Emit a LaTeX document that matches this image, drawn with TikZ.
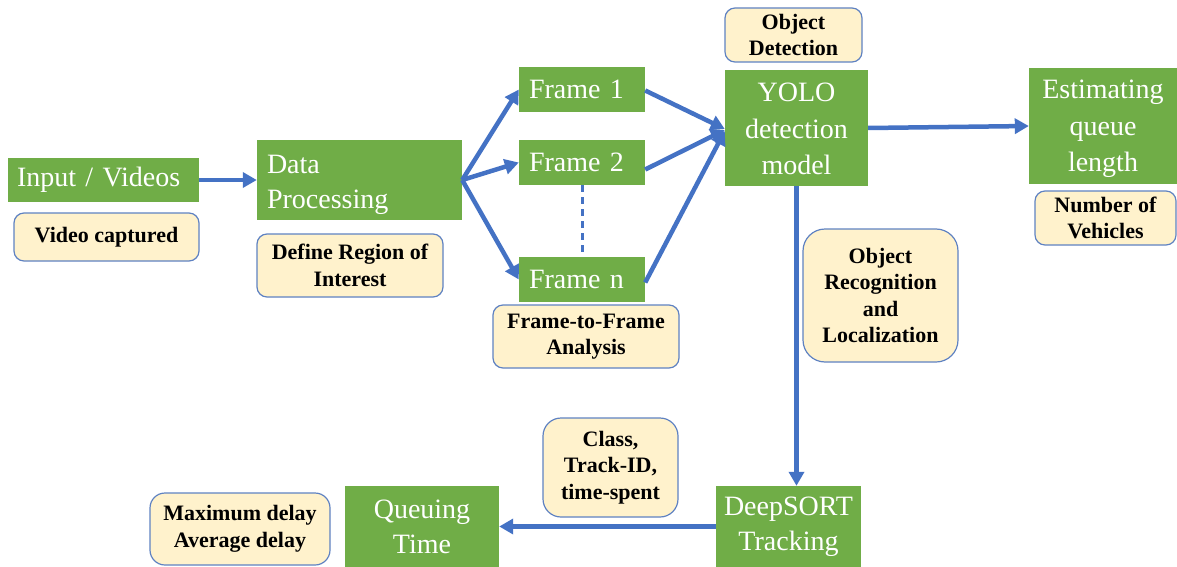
\documentclass[tikz,border=0pt]{standalone}
\usepackage{fontspec}
\setmainfont{Liberation Serif}
\usetikzlibrary{arrows.meta}
\definecolor{boxgreen}{HTML}{70AD47}
\definecolor{flowblue}{HTML}{4472C4}
\definecolor{notefill}{HTML}{FFF2CC}
\definecolor{noteedge}{HTML}{5F82C2}
\tikzset{
  stage/.style={fill=boxgreen, text=white, inner sep=0pt,
    font=\fontsize{28}{35}\selectfont},
  stageL/.style={stage, align=left, text width=#1},
  stageC/.style={stage, align=center},
  caption/.style={text=white, inner sep=0pt, font=\fontsize{28}{#1}\selectfont},
  note/.style={fill=notefill, draw=noteedge, line width=1.2pt, rounded corners=10pt,
    inner sep=0pt, align=center, font=\fontsize{22}{26.5}\selectfont\bfseries},
  flow/.style={draw=flowblue, line width=4.5pt, -{Triangle[length=14pt,width=15pt]}},
}
\begin{document}
\begin{tikzpicture}[x=1pt,y=-1pt]
\useasboundingbox (0,0) rectangle (1177,567);

% processing stages
\node[stageL=173pt, minimum width=191pt, minimum height=44pt] (inp) at (103.5,180) {Input / Videos};
\node[stage, minimum width=205pt, minimum height=80pt] (dat) at (359.5,180) {};
\node[caption=35, align=left, text width=185pt] (datT) at ([yshift=-5pt]dat.center) {Data\\Processing};
\node[stageL=106pt, minimum width=126pt, minimum height=45pt] (f1) at (582,89.5) {Frame 1};
\node[stageL=106pt, minimum width=126pt, minimum height=45pt] (f2) at (582,162.5) {Frame 2};
\node[stageL=106pt, minimum width=126pt, minimum height=45pt] (fn) at (582,279.5) {Frame n};
\node[stage, minimum width=143pt, minimum height=116pt] (yolo) at (796.5,128) {};
\node[caption=36.5, align=center] (yoloT) at ([yshift=-1pt]yolo.center) {YOLO\\detection\\model};
\node[stage, minimum width=148pt, minimum height=116pt] (est) at (1103,126) {};
\node[caption=36.5, align=center] (estT) at ([yshift=-3pt]est.center) {Estimating\\queue\\length};
\node[stageC, minimum width=145pt, minimum height=81pt] (deep) at (788.5,526.5) {DeepSORT\\Tracking};
\node[stageC, minimum width=154pt, minimum height=81pt] (que) at (422,526.5) {Queuing\\Time};

% annotations
\node[note, minimum width=185pt, minimum height=48pt] (vc) at (106.5,237) {Video captured};
\node[note, minimum width=186pt, minimum height=63pt] (roi) at (350,265.5) {Define Region of\\Interest};
\node[note, minimum width=186pt, minimum height=63pt] (ffa) at (586,336.5) {Frame-to-Frame\\Analysis};
\node[note, minimum width=137pt, minimum height=54pt] (od) at (793.5,35) {Object\\Detection};
\node[note, minimum width=141pt, minimum height=54pt] (nv) at (1105.5,218) {Number of\\Vehicles};
\node[note, rounded corners=22pt, minimum width=155pt, minimum height=133pt] (orl) at (880.5,295.5) {Object\\Recognition\\and\\Localization};
\node[note, rounded corners=18pt, minimum width=135pt, minimum height=99pt] (ctt) at (610.5,467.5) {Class,\\Track-ID,\\time-spent};
\node[note, rounded corners=15pt, minimum width=180pt, minimum height=72pt] (md) at (240,529) {Maximum delay\\Average delay};

% connectors
\draw[flow] (inp.east) -- (dat.west);
\draw[flow] (dat.east) -- (f1.west);
\draw[flow] (dat.east) -- (f2.west);
\draw[flow] (dat.east) -- (fn.west);
\draw[flow] ([yshift=-1pt]f1.east) -- ([yshift=-1pt]yolo.west);
\draw[flow] ([yshift=-7pt]f2.east) -- ([yshift=-2pt]yolo.west);
\draw[flow] ([yshift=-3pt]fn.east) -- ([yshift=-3pt]yolo.west);
\draw[draw=flowblue, line width=3pt, dash pattern=on 7pt off 5pt] (f2.south) -- (fn.north);
\draw[flow] (yolo.east) -- (est.west);
\draw[flow] (yolo.south) -- (yolo.south |- deep.north);
\draw[flow] (deep.west) -- (que.east);
\end{tikzpicture}
\end{document}
